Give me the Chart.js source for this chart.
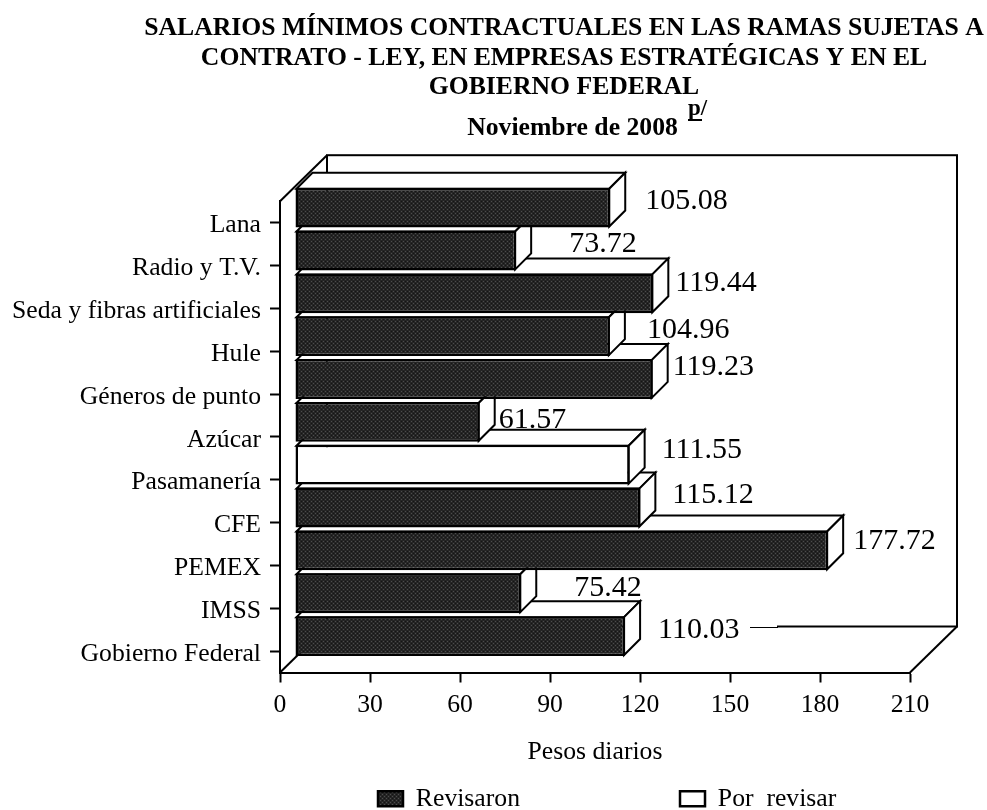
<!DOCTYPE html>
<html>
<head>
<meta charset="utf-8">
<style>html,body{margin:0;padding:0;background:#fff}#w{width:987px;height:810px}</style>
<script src="https://cdn.jsdelivr.net/npm/chart.js@4/dist/chart.umd.min.js"></script>
</head>
<body>
<div id="w"><canvas id="c" width="987" height="810"></canvas></div>
<script>
const titleLines = ['SALARIOS MÍNIMOS CONTRACTUALES EN LAS RAMAS SUJETAS A','CONTRATO - LEY, EN EMPRESAS ESTRATÉGICAS Y EN EL','GOBIERNO FEDERAL'];
const subtitleText = 'Noviembre de 2008';
const noteMark = 'p/';
const xAxisTitle = 'Pesos diarios';
const categories = ['Lana','Radio y T.V.','Seda y fibras artificiales','Hule','Géneros de punto','Azúcar','Pasamanería','CFE','PEMEX','IMSS','Gobierno Federal'];
const revisaron = [105.08,73.72,119.44,104.96,119.23,61.57,null,115.12,177.72,75.42,110.03];
const porRevisar = [null,null,null,null,null,null,111.55,null,null,null,null];
const valueLabels = ['105.08','73.72','119.44','104.96','119.23','61.57','111.55','115.12','177.72','75.42','110.03'];
// manual placement of each value label, relative to the end of its bar
const labelDx = [35,53,22,37,20,19,32,32,25,53,33];
const labelDy = [-7,-6,-10,-6,-12,-2,-15,-12,-9,-5,-6];

const SERIF = '"Liberation Serif","Times New Roman",serif';
const FS = 25.7;
const SHIFT_X = 15, SHIFT_Y = -15, BAR_DEPTH = 16, WALL_DX = 47, WALL_DY = 46;

function makePattern(){
  const p = document.createElement('canvas'); p.width = 4; p.height = 4;
  const g = p.getContext('2d');
  g.fillStyle = '#252525'; g.fillRect(0,0,4,4);
  g.fillStyle = '#4c4c4c'; g.fillRect(0,0,1,1); g.fillRect(2,2,1,1);
  g.fillStyle = '#141414'; g.fillRect(2,0,1,1); g.fillRect(0,2,1,1);
  return g.createPattern(p,'repeat');
}
const darkFill = makePattern();

function poly(ctx, pts){
  ctx.beginPath();
  pts.forEach((p,i)=> i ? ctx.lineTo(p[0],p[1]) : ctx.moveTo(p[0],p[1]));
  ctx.closePath(); ctx.fill(); ctx.stroke();
}
function seg(ctx,a,b,c,d){ ctx.beginPath(); ctx.moveTo(a,b); ctx.lineTo(c,d); ctx.stroke(); }

const scene3d = {
  id:'scene3d',
  beforeLayout(chart){
    const lg = chart.legend;
    if(lg && !lg._flat){
      const f = lg.fit;
      lg.fit = function(){ f.call(this); this.height = 1; };
      lg._flat = true;
    }
  },
  afterLayout(chart){
    const t = chart.titleBlock, s = chart.boxes.find(b=>b!==t && b.options && b.options.text===subtitleText);
    t.left = 141; t.right = 987;
    if(s){ s.left = 158; s.right = 987; }
    const lg = chart.legend, pad = lg.options.labels.padding;
    lg.left = 378 - pad; lg.right = 1400; lg.top = 786 - pad; lg.bottom = 810; lg.width = lg.right-lg.left; lg.height = lg.bottom-lg.top;
  },
  beforeDatasetsDraw(chart){
    const ctx = chart.ctx, a = chart.chartArea;
    ctx.save();
    ctx.strokeStyle = '#000'; ctx.fillStyle = '#fff'; ctx.lineWidth = 2; ctx.lineJoin = 'miter';
    const bl = a.left+WALL_DX, bt = a.top-WALL_DY, br = a.right+WALL_DX, bb = a.bottom-WALL_DY;
    seg(ctx,a.left,a.top,bl,bt);
    seg(ctx,a.left,a.bottom,bl,bb);
    seg(ctx,a.right,a.bottom,br,bb);
    ctx.strokeRect(bl,bt,br-bl,bb-bt);
    // white box behind the lowest value label, thin leader line after it
    ctx.fillRect(641,bb-3,136,6);
    ctx.lineWidth = 1; seg(ctx,750,Math.round(bb)+0.5,778,Math.round(bb)+0.5); ctx.lineWidth = 2;

    const metas = [chart.getDatasetMeta(0), chart.getDatasetMeta(1)];
    for(let i = categories.length-1; i >= 0; i--){
      metas.forEach((m,k)=>{
        if(chart.data.datasets[k].data[i] == null) return;
        const el = m.data[i];
        const {x,y,base,height} = el.getProps(['x','y','base','height'],true);
        ctx.save();
        ctx.translate(SHIFT_X,SHIFT_Y);
        const top = y-height/2+1, bot = y+height/2-1, l = base+1, r = x-1, d = BAR_DEPTH;
        ctx.fillStyle = '#fff'; ctx.strokeStyle = '#000'; ctx.lineWidth = 2;
        poly(ctx,[[l,top],[l+d,top-d],[r+d,top-d],[r,top]]);
        poly(ctx,[[r,top],[r+d,top-d],[r+d,bot-d],[r,bot]]);
        el.draw(ctx);
        ctx.restore();
      });
    }
    ctx.restore();
    return false;
  },
  afterDraw(chart){
    const ctx = chart.ctx;
    ctx.save();
    ctx.fillStyle = '#000'; ctx.textBaseline = 'middle'; ctx.textAlign = 'left';
    ctx.font = '30px '+SERIF;
    const metas = [chart.getDatasetMeta(0), chart.getDatasetMeta(1)];
    categories.forEach((c,i)=>{
      const k = revisaron[i] != null ? 0 : 1;
      const el = metas[k].data[i];
      ctx.fillText(valueLabels[i], el.x+SHIFT_X+labelDx[i], el.y+SHIFT_Y+labelDy[i]);
    });
    ctx.font = 'bold 23px '+SERIF; ctx.textBaseline = 'alphabetic';
    ctx.fillText(noteMark,688,115);
    ctx.fillRect(688,119,14,2);
    ctx.restore();
  }
};

new Chart(document.getElementById('c'),{
  type:'bar',
  data:{
    labels:categories,
    datasets:[
      {label:'Revisaron',data:revisaron,backgroundColor:darkFill,borderColor:'#000',borderWidth:2.5,borderSkipped:false},
      {label:'Por  revisar',data:porRevisar,backgroundColor:'#fff',borderColor:'#000',borderWidth:2.5,borderSkipped:false}
    ]
  },
  plugins:[scene3d],
  options:{
    indexAxis:'y',
    responsive:false,
    animation:false,
    events:[],
    barPercentage:0.93,
    categoryPercentage:1,
    layout:{padding:{left:0,right:77,top:0,bottom:0}},
    plugins:{
      tooltip:{enabled:false},
      title:{display:true,text:titleLines,color:'#000',
        font:{family:SERIF,size:FS,weight:'bold',lineHeight:1.148},padding:{top:14,bottom:13}},
      subtitle:{display:true,text:subtitleText,color:'#000',
        font:{family:SERIF,size:FS,weight:'bold',lineHeight:1},padding:{top:0,bottom:60}},
      legend:{display:true,position:'bottom',align:'start',
        labels:{color:'#000',boxWidth:25,boxHeight:15,padding:160,font:{family:SERIF,size:FS}}}
    },
    scales:{
      x:{type:'linear',min:0,max:210,stacked:true,
        ticks:{stepSize:30,color:'#000',padding:7,maxRotation:0,font:{family:SERIF,size:FS}},
        grid:{drawOnChartArea:false,drawTicks:true,tickLength:10,tickWidth:2,tickColor:'#000'},
        border:{display:true,color:'#000',width:2},
        title:{display:true,text:xAxisTitle,color:'#000',font:{family:SERIF,size:FS},padding:{top:0,bottom:41}},
        afterFit(s){ s.height = 136.5; }
      },
      y:{type:'category',stacked:true,
        ticks:{color:'#000',padding:9,autoSkip:false,labelOffset:3,font:{family:SERIF,size:FS}},
        grid:{offset:false,drawOnChartArea:false,drawTicks:true,tickLength:10,tickWidth:2,tickColor:'#000'},
        border:{display:true,color:'#000',width:2},
        afterFit(s){ s.width = 280; }
      }
    }
  }
});
</script>
</body>
</html>
